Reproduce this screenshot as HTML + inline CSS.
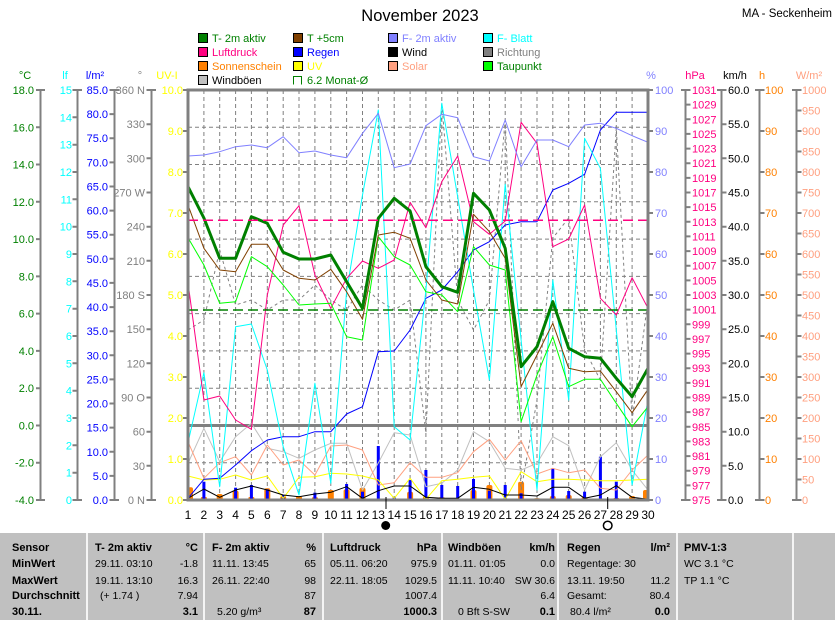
<!DOCTYPE html>
<html><head><meta charset="utf-8"><style>
html,body{margin:0;padding:0;background:#fff;}
svg{display:block;}
text{font-family:"Liberation Sans",Arial,sans-serif;}
</style></head><body>
<svg width="835" height="620" viewBox="0 0 835 620" xmlns="http://www.w3.org/2000/svg">
<rect width="835" height="620" fill="#fff"/>
<defs><clipPath id="pc"><rect x="188" y="90" width="460" height="410"/></clipPath></defs>

<!-- Title -->
<text x="420" y="21" font-size="16.5" text-anchor="middle">November 2023</text>
<text x="832" y="17" font-size="11.5" text-anchor="end">MA - Seckenheim</text>

<!-- Legend -->
<g font-size="11">
<rect x="198.5" y="33.5" width="9" height="9" fill="#008000" stroke="#000"/><text x="212" y="42" fill="#008000">T- 2m aktiv</text>
<rect x="293.5" y="33.5" width="9" height="9" fill="#804000" stroke="#000"/><text x="307" y="42" fill="#008000">T +5cm</text>
<rect x="388.5" y="33.5" width="9" height="9" fill="#8080ff" stroke="#000"/><text x="402" y="42" fill="#8080ff">F- 2m aktiv</text>
<rect x="483.5" y="33.5" width="9" height="9" fill="#00ffff" stroke="#000"/><text x="497" y="42" fill="#00ffff">F- Blatt</text>

<rect x="198.5" y="47.5" width="9" height="9" fill="#ff0080" stroke="#000"/><text x="212" y="56" fill="#ff0080">Luftdruck</text>
<rect x="293.5" y="47.5" width="9" height="9" fill="#0000ff" stroke="#000"/><text x="307" y="56" fill="#0000ff">Regen</text>
<rect x="388.5" y="47.5" width="9" height="9" fill="#000" stroke="#000"/><text x="402" y="56" fill="#000">Wind</text>
<rect x="483.5" y="47.5" width="9" height="9" fill="#808080" stroke="#000"/><text x="497" y="56" fill="#808080">Richtung</text>

<rect x="198.5" y="61.5" width="9" height="9" fill="#ff8000" stroke="#000"/><text x="212" y="70" fill="#ff8000">Sonnenschein</text>
<rect x="293.5" y="61.5" width="9" height="9" fill="#ffff00" stroke="#000"/><text x="307" y="70" fill="#ffff00">UV</text>
<rect x="388.5" y="61.5" width="9" height="9" fill="#ffa080" stroke="#000"/><text x="402" y="70" fill="#ffa080">Solar</text>
<rect x="483.5" y="61.5" width="9" height="9" fill="#00ff00" stroke="#000"/><text x="497" y="70" fill="#008000">Taupunkt</text>

<rect x="198.5" y="75.5" width="9" height="9" fill="#c0c0c0" stroke="#000"/><text x="212" y="84" fill="#000">Windböen</text>
<path d="M293.5,84.5 V76.5 H301.5 V84.5" fill="none" stroke="#008000"/><text x="307" y="84" fill="#008000">6.2 Monat-Ø</text>
</g>

<!-- Axis headers -->
<g font-size="11">
<text x="25" y="79" fill="#008000" text-anchor="middle">°C</text>
<text x="65" y="79" fill="#00ffff" text-anchor="middle">lf</text>
<text x="95" y="79" fill="#0000ff" text-anchor="middle">l/m²</text>
<text x="140" y="79" fill="#808080" text-anchor="middle">°</text>
<text x="167" y="79" fill="#ffff00" text-anchor="middle">UV-I</text>
<text x="651" y="79" fill="#8080ff" text-anchor="middle">%</text>
<text x="695" y="79" fill="#ff0080" text-anchor="middle">hPa</text>
<text x="735" y="79" fill="#000" text-anchor="middle">km/h</text>
<text x="762" y="79" fill="#ff8000" text-anchor="middle">h</text>
<text x="809" y="79" fill="#ffa080" text-anchor="middle">W/m²</text>
</g>

<!-- Left axes lines and ticks -->
<g stroke="#808080" stroke-width="2" fill="none">
<path d="M40.5,90 V500 M36,90 H45 M36,500 H45 M36,127.3H40.5 M36,164.5H40.5 M36,201.8H40.5 M36,239.1H40.5 M36,276.4H40.5 M36,313.6H40.5 M36,350.9H40.5 M36,388.2H40.5 M36,425.5H40.5 M36,462.7H40.5"/>
<path d="M77.5,90 V500 M72.5,90 H82 M72.5,500 H82 M72.5,117.3H77.5 M72.5,144.7H77.5 M72.5,172H77.5 M72.5,199.3H77.5 M72.5,226.7H77.5 M72.5,254H77.5 M72.5,281.3H77.5 M72.5,308.7H77.5 M72.5,336H77.5 M72.5,363.3H77.5 M72.5,390.7H77.5 M72.5,418H77.5 M72.5,445.3H77.5 M72.5,472.7H77.5"/>
<path d="M114.5,90 V500 M109.5,90 H119 M109.5,500 H119 M109.5,114.1H114.5 M109.5,138.2H114.5 M109.5,162.4H114.5 M109.5,186.5H114.5 M109.5,210.6H114.5 M109.5,234.7H114.5 M109.5,258.8H114.5 M109.5,282.9H114.5 M109.5,307.1H114.5 M109.5,331.2H114.5 M109.5,355.3H114.5 M109.5,379.4H114.5 M109.5,403.5H114.5 M109.5,427.6H114.5 M109.5,451.8H114.5 M109.5,475.9H114.5"/>
<path d="M151.5,90 V500 M146.5,90 H156 M146.5,500 H156 M146.5,124.2H151.5 M146.5,158.3H151.5 M146.5,192.5H151.5 M146.5,226.7H151.5 M146.5,260.8H151.5 M146.5,295H151.5 M146.5,329.2H151.5 M146.5,363.3H151.5 M146.5,397.5H151.5 M146.5,431.7H151.5 M146.5,465.8H151.5"/>
<path d="M183,90H188 M183,131H188 M183,172H188 M183,213H188 M183,254H188 M183,295H188 M183,336H188 M183,377H188 M183,418H188 M183,459H188 M183,500H188"/>
<!-- right -->
<path d="M648,90H653 M648,131H653 M648,172H653 M648,213H653 M648,254H653 M648,295H653 M648,336H653 M648,377H653 M648,418H653 M648,459H653 M648,500H653"/>
<path d="M685.5,90 V500 M681,90 H690.5 M681,500 H690.5 M685.5,104.6H690.5 M685.5,119.3H690.5 M685.5,133.9H690.5 M685.5,148.6H690.5 M685.5,163.2H690.5 M685.5,177.9H690.5 M685.5,192.5H690.5 M685.5,207.1H690.5 M685.5,221.8H690.5 M685.5,236.4H690.5 M685.5,251.1H690.5 M685.5,265.7H690.5 M685.5,280.4H690.5 M685.5,295H690.5 M685.5,309.6H690.5 M685.5,324.3H690.5 M685.5,338.9H690.5 M685.5,353.6H690.5 M685.5,368.2H690.5 M685.5,382.9H690.5 M685.5,397.5H690.5 M685.5,412.1H690.5 M685.5,426.8H690.5 M685.5,441.4H690.5 M685.5,456.1H690.5 M685.5,470.7H690.5 M685.5,485.4H690.5"/>
<path d="M721.5,90 V500 M717,90 H726.5 M717,500 H726.5 M721.5,124.2H726.5 M721.5,158.3H726.5 M721.5,192.5H726.5 M721.5,226.7H726.5 M721.5,260.8H726.5 M721.5,295H726.5 M721.5,329.2H726.5 M721.5,363.3H726.5 M721.5,397.5H726.5 M721.5,431.7H726.5 M721.5,465.8H726.5"/>
<path d="M759.5,90 V500 M755,90 H764.5 M755,500 H764.5 M759.5,131H764.5 M759.5,172H764.5 M759.5,213H764.5 M759.5,254H764.5 M759.5,295H764.5 M759.5,336H764.5 M759.5,377H764.5 M759.5,418H764.5 M759.5,459H764.5"/>
<path d="M796.5,90 V500 M792,90 H801.5 M792,500 H801.5 M796.5,110.5H801.5 M796.5,131H801.5 M796.5,151.5H801.5 M796.5,172H801.5 M796.5,192.5H801.5 M796.5,213H801.5 M796.5,233.5H801.5 M796.5,254H801.5 M796.5,274.5H801.5 M796.5,295H801.5 M796.5,315.5H801.5 M796.5,336H801.5 M796.5,356.5H801.5 M796.5,377H801.5 M796.5,397.5H801.5 M796.5,418H801.5 M796.5,438.5H801.5 M796.5,459H801.5 M796.5,479.5H801.5"/>
</g>

<!-- Left tick labels -->
<g font-size="11" text-anchor="end" fill="#008000">
<text x="34" y="94">18.0</text><text x="34" y="131.3">16.0</text><text x="34" y="168.5">14.0</text><text x="34" y="205.8">12.0</text><text x="34" y="243.1">10.0</text><text x="34" y="280.4">8.0</text><text x="34" y="317.6">6.0</text><text x="34" y="354.9">4.0</text><text x="34" y="392.2">2.0</text><text x="34" y="429.5">0.0</text><text x="34" y="466.7">-2.0</text><text x="34" y="504">-4.0</text>
</g>
<g font-size="11" text-anchor="end" fill="#00ffff">
<text x="72" y="94">15</text><text x="72" y="121.3">14</text><text x="72" y="148.7">13</text><text x="72" y="176">12</text><text x="72" y="203.3">11</text><text x="72" y="230.7">10</text><text x="72" y="258">9</text><text x="72" y="285.3">8</text><text x="72" y="312.7">7</text><text x="72" y="340">6</text><text x="72" y="367.3">5</text><text x="72" y="394.7">4</text><text x="72" y="422">3</text><text x="72" y="449.3">2</text><text x="72" y="476.7">1</text><text x="72" y="504">0</text>
</g>
<g font-size="11" text-anchor="end" fill="#0000ff">
<text x="108" y="94">85.0</text><text x="108" y="118.1">80.0</text><text x="108" y="142.2">75.0</text><text x="108" y="166.4">70.0</text><text x="108" y="190.5">65.0</text><text x="108" y="214.6">60.0</text><text x="108" y="238.7">55.0</text><text x="108" y="262.8">50.0</text><text x="108" y="286.9">45.0</text><text x="108" y="311.1">40.0</text><text x="108" y="335.2">35.0</text><text x="108" y="359.3">30.0</text><text x="108" y="383.4">25.0</text><text x="108" y="407.5">20.0</text><text x="108" y="431.6">15.0</text><text x="108" y="455.8">10.0</text><text x="108" y="479.9">5.0</text><text x="108" y="504">0.0</text>
</g>
<g font-size="11" text-anchor="end" fill="#808080" xml:space="preserve">
<text x="145" y="94">360 N</text><text x="145" y="128.2">330</text><text x="145" y="162.3">300</text><text x="145" y="196.5">270 W</text><text x="145" y="230.7">240</text><text x="145" y="264.8">210</text><text x="145" y="299">180 S</text><text x="145" y="333.2">150</text><text x="145" y="367.3">120</text><text x="145" y="401.5">90   O</text><text x="145" y="435.7">60</text><text x="145" y="469.8">30</text><text x="145" y="504">0     N</text>
</g>
<g font-size="11" text-anchor="end" fill="#ffff00">
<text x="183" y="94">10.0</text><text x="183" y="135">9.0</text><text x="183" y="176">8.0</text><text x="183" y="217">7.0</text><text x="183" y="258">6.0</text><text x="183" y="299">5.0</text><text x="183" y="340">4.0</text><text x="183" y="381">3.0</text><text x="183" y="422">2.0</text><text x="183" y="463">1.0</text><text x="183" y="504">0.0</text>
</g>

<!-- Right tick labels -->
<g font-size="11" fill="#8080ff">
<text x="655" y="94">100</text><text x="655" y="135">90</text><text x="655" y="176">80</text><text x="655" y="217">70</text><text x="655" y="258">60</text><text x="655" y="299">50</text><text x="655" y="340">40</text><text x="655" y="381">30</text><text x="655" y="422">20</text><text x="655" y="463">10</text><text x="655" y="504">0</text>
</g>
<g font-size="11" fill="#ff0080">
<text x="692" y="94">1031</text><text x="692" y="108.6">1029</text><text x="692" y="123.3">1027</text><text x="692" y="137.9">1025</text><text x="692" y="152.6">1023</text><text x="692" y="167.2">1021</text><text x="692" y="181.9">1019</text><text x="692" y="196.5">1017</text><text x="692" y="211.1">1015</text><text x="692" y="225.8">1013</text><text x="692" y="240.4">1011</text><text x="692" y="255.1">1009</text><text x="692" y="269.7">1007</text><text x="692" y="284.4">1005</text><text x="692" y="299">1003</text><text x="692" y="313.6">1001</text><text x="692" y="328.3">999</text><text x="692" y="342.9">997</text><text x="692" y="357.6">995</text><text x="692" y="372.2">993</text><text x="692" y="386.9">991</text><text x="692" y="401.5">989</text><text x="692" y="416.1">987</text><text x="692" y="430.8">985</text><text x="692" y="445.4">983</text><text x="692" y="460.1">981</text><text x="692" y="474.7">979</text><text x="692" y="489.4">977</text><text x="692" y="504">975</text>
</g>
<g font-size="11" fill="#000">
<text x="728" y="94">60.0</text><text x="728" y="128.2">55.0</text><text x="728" y="162.3">50.0</text><text x="728" y="196.5">45.0</text><text x="728" y="230.7">40.0</text><text x="728" y="264.8">35.0</text><text x="728" y="299">30.0</text><text x="728" y="333.2">25.0</text><text x="728" y="367.3">20.0</text><text x="728" y="401.5">15.0</text><text x="728" y="435.7">10.0</text><text x="728" y="469.8">5.0</text><text x="728" y="504">0.0</text>
</g>
<g font-size="11" fill="#ff8000">
<text x="765" y="94">100</text><text x="765" y="135">90</text><text x="765" y="176">80</text><text x="765" y="217">70</text><text x="765" y="258">60</text><text x="765" y="299">50</text><text x="765" y="340">40</text><text x="765" y="381">30</text><text x="765" y="422">20</text><text x="765" y="463">10</text><text x="765" y="504">0</text>
</g>
<g font-size="11" fill="#ffa080">
<text x="802" y="94">1000</text><text x="802" y="114.5">950</text><text x="802" y="135">900</text><text x="802" y="155.5">850</text><text x="802" y="176">800</text><text x="802" y="196.5">750</text><text x="802" y="217">700</text><text x="802" y="237.5">650</text><text x="802" y="258">600</text><text x="802" y="278.5">550</text><text x="802" y="299">500</text><text x="802" y="319.5">450</text><text x="802" y="340">400</text><text x="802" y="360.5">350</text><text x="802" y="381">300</text><text x="802" y="401.5">250</text><text x="802" y="422">200</text><text x="802" y="442.5">150</text><text x="802" y="463">100</text><text x="802" y="483.5">50</text><text x="802" y="504">0</text>
</g>

<!-- Grid -->
<g stroke="#808080" stroke-width="1" stroke-dasharray="4 3" fill="none">
<path d="M188,127.3H648 M188,164.5H648 M188,201.8H648 M188,239.1H648 M188,276.4H648 M188,313.6H648 M188,350.9H648 M188,388.2H648 M188,462.7H648"/>
<path d="M203.9,90V500 M219.7,90V500 M235.6,90V500 M251.4,90V500 M267.3,90V500 M283.2,90V500 M299,90V500 M314.9,90V500 M330.8,90V500 M346.6,90V500 M362.5,90V500 M378.3,90V500 M394.2,90V500 M410.1,90V500 M425.9,90V500 M441.8,90V500 M457.7,90V500 M473.5,90V500 M489.4,90V500 M505.2,90V500 M521.1,90V500 M537,90V500 M552.8,90V500 M568.7,90V500 M584.6,90V500 M600.4,90V500 M616.3,90V500 M632.1,90V500"/>
</g>
<path d="M188,425.5H648" stroke="#808080" stroke-width="3"/>

<g clip-path="url(#pc)">
<!-- Sunshine bars -->
<g fill="#ff8000">
<rect x="188" y="487.3" width="5" height="12.7" rx="2"/>
<rect x="200.9" y="497" width="6" height="3" rx="1"/>
<rect x="216.7" y="494" width="6" height="6" rx="2"/>
<rect x="232.6" y="490.7" width="6" height="9.3" rx="2"/>
<rect x="248.4" y="497" width="6" height="3" rx="1"/>
<rect x="264.3" y="488.3" width="6" height="11.7" rx="2"/>
<rect x="280.2" y="496" width="6" height="4" rx="2"/>
<rect x="296" y="496" width="6" height="4" rx="2"/>
<rect x="311.9" y="497.3" width="6" height="2.7" rx="1"/>
<rect x="327.8" y="490" width="6" height="10" rx="2"/>
<rect x="343.6" y="489.3" width="6" height="10.7" rx="2"/>
<rect x="359.5" y="487.7" width="6" height="12.3" rx="2"/>
<rect x="407.1" y="491.7" width="6" height="8.3" rx="2"/>
<rect x="422.9" y="496.7" width="6" height="3.3" rx="1"/>
<rect x="438.8" y="497.3" width="6" height="2.7" rx="1"/>
<rect x="470.5" y="490" width="6" height="10" rx="2"/>
<rect x="486.4" y="485" width="6" height="15" rx="2"/>
<rect x="518.1" y="481.7" width="6" height="18.3" rx="2"/>
<rect x="534" y="498.3" width="6" height="1.7" rx="1"/>
<rect x="549.8" y="496" width="6" height="4" rx="2"/>
<rect x="565.7" y="495" width="6" height="5" rx="2"/>
<rect x="581.6" y="497.3" width="6" height="2.7" rx="1"/>
<rect x="613.3" y="498" width="6" height="2" rx="1"/>
<rect x="629.1" y="496" width="6" height="4" rx="2"/>
<rect x="643" y="490" width="5" height="10" rx="2"/>
</g>
<!-- Rain bars -->
<g fill="#0000ff">
<rect x="202.4" y="481.7" width="3" height="18.3"/>
<rect x="234.1" y="487.7" width="3" height="12.3"/>
<rect x="249.9" y="485" width="3" height="15"/>
<rect x="265.8" y="489.3" width="3" height="10.7"/>
<rect x="281.7" y="495" width="3" height="5"/>
<rect x="313.4" y="492.7" width="3" height="7.3"/>
<rect x="345.1" y="484" width="3" height="16"/>
<rect x="361" y="491.7" width="3" height="8.3"/>
<rect x="376.8" y="446" width="3" height="54"/>
<rect x="392.7" y="497" width="3" height="3"/>
<rect x="408.6" y="480" width="3" height="20"/>
<rect x="424.4" y="470" width="3" height="30"/>
<rect x="440.3" y="485" width="3" height="15"/>
<rect x="456.2" y="486" width="3" height="14"/>
<rect x="472" y="479" width="3" height="21"/>
<rect x="487.9" y="490.7" width="3" height="9.3"/>
<rect x="503.7" y="485" width="3" height="15"/>
<rect x="519.6" y="493.3" width="3" height="6.7"/>
<rect x="551.3" y="468.3" width="3" height="31.7"/>
<rect x="567.2" y="491" width="3" height="9"/>
<rect x="583.1" y="491.7" width="3" height="8.3"/>
<rect x="598.9" y="456.7" width="3" height="43.3"/>
<rect x="614.8" y="481.7" width="3" height="18.3"/>
</g>

<g fill="none" stroke-linejoin="round">
<!-- Richtung -->
<polyline stroke="#808080" stroke-width="1" stroke-dasharray="3 3" points="188,330 203.9,320 219.7,250 235.6,305 251.4,300 267.3,310 283.2,300 299,300 314.9,285 330.8,300 346.6,310 362.5,285 378.3,300 394.2,310 410.1,300 425.9,433 441.8,103 457.7,300 473.5,330 489.4,300 505.2,120 521.1,490 537,400 552.8,238 568.7,218 584.6,350 600.4,380 616.3,128 632.1,420 648,300"/>
<!-- Windböen -->
<polyline stroke="#c0c0c0" stroke-width="1" points="188,463.3 203.9,428.3 219.7,461.7 235.6,436.7 251.4,423.3 267.3,448.3 283.2,451.7 299,458.3 314.9,450 330.8,443.3 346.6,443.3 362.5,490 378.3,463 394.2,432.7 410.1,435 425.9,486.7 441.8,483.3 457.7,470 473.5,431.7 489.4,441.7 505.2,468.3 521.1,470 537,463.3 552.8,436.7 568.7,445.7 584.6,490 600.4,456.7 616.3,442.7 632.1,470 648,490"/>
<!-- Solar -->
<polyline stroke="#ffa080" stroke-width="1" points="188,441.7 203.9,478.3 219.7,462.7 235.6,456.7 251.4,475 267.3,445 283.2,465 299,460 314.9,475 330.8,446 346.6,445 362.5,450 378.3,485 394.2,482.7 410.1,462.7 425.9,477.3 441.8,477.3 457.7,472.7 473.5,451.7 489.4,439.3 505.2,460 521.1,440.7 537,474 552.8,468.3 568.7,472.7 584.6,470 600.4,488.3 616.3,490 632.1,470 648,455"/>
<!-- UV -->
<polyline stroke="#ffff00" stroke-width="1" points="188,476 203.9,480 219.7,479.3 235.6,475 251.4,480 267.3,476 283.2,498.3 299,477.3 314.9,476.7 330.8,473.3 346.6,474 362.5,476 378.3,480 394.2,498.3 410.1,478.3 425.9,499.3 441.8,480.7 457.7,479.3 473.5,477.3 489.4,476 505.2,499.3 521.1,471.7 537,481.7 552.8,479.3 568.7,479.3 584.6,480 600.4,480.7 616.3,480.7 632.1,480 648,479.3"/>
<!-- Wind -->
<polyline stroke="#000" stroke-width="1" points="188,498.3 203.9,489 219.7,497.3 235.6,490 251.4,486 267.3,490 283.2,495 299,496.7 314.9,494 330.8,492.3 346.6,486.7 362.5,498.3 378.3,490.7 394.2,486 410.1,486 425.9,497.3 441.8,498.3 457.7,498.3 473.5,487.3 489.4,489.3 505.2,495 521.1,495 537,496 552.8,487.3 568.7,487.3 584.6,498.3 600.4,495 616.3,485.7 632.1,497.3 648,499.3"/>
<!-- Rain cumulative -->
<polyline stroke="#0000ff" stroke-width="1" points="188,498.3 203.9,479.3 219.7,478.3 235.6,465 251.4,450.7 267.3,440 283.2,436.7 299,436.7 314.9,431.7 330.8,431.7 346.6,414 362.5,406.7 378.3,351.7 394.2,351 410.1,330 425.9,298.3 441.8,290 457.7,271.7 473.5,250 489.4,241.7 505.2,225 521.1,221.7 537,221.7 552.8,190 568.7,183.3 584.6,174.3 600.4,130 616.3,112.3 632.1,112.3 648,112.3"/>
<!-- F-Blatt -->
<polyline stroke="#00ffff" stroke-width="1" points="188,442.7 203.9,372.7 219.7,486.7 235.6,326.7 251.4,324 267.3,370 283.2,446.7 299,495 314.9,383.3 330.8,483.3 346.6,291.7 362.5,195 378.3,110 394.2,426.7 410.1,440 425.9,290 441.8,103.3 457.7,197 473.5,290 489.4,380 505.2,184.3 521.1,340 537,490 552.8,280 568.7,400 584.6,138.3 600.4,168.3 616.3,330 632.1,485 648,400"/>
<!-- Luftdruck -->
<polyline stroke="#ff0080" stroke-width="1" points="188,283 203.9,400 219.7,396 235.6,420 251.4,429.3 267.3,295 283.2,225 299,205.7 314.9,275 330.8,308.3 346.6,278.3 362.5,261 378.3,268.3 394.2,260 410.1,202.3 425.9,227.7 441.8,181.7 457.7,156 473.5,221.7 489.4,234.3 505.2,221 521.1,122.3 537,143.3 552.8,246.7 568.7,239 584.6,205 600.4,298.3 616.3,315 632.1,277.7 648,308.3"/>
<!-- F-2m -->
<polyline stroke="#8080ff" stroke-width="1" points="188,156 203.9,155 219.7,151.7 235.6,146.7 251.4,145 267.3,147.7 283.2,136.7 299,152.7 314.9,151 330.8,155 346.6,157.7 362.5,133.3 378.3,113.3 394.2,167.7 410.1,164 425.9,125.7 441.8,114.3 457.7,117.7 473.5,156.7 489.4,161 505.2,120 521.1,166.7 537,140 552.8,140 568.7,146.7 584.6,125 600.4,123.3 616.3,128.3 632.1,135.7 648,142.3"/>
<!-- Taupunkt -->
<polyline stroke="#00ff00" stroke-width="1" points="188,237.7 203.9,265 219.7,303.3 235.6,301.7 251.4,256.7 267.3,266.7 283.2,285 299,305 314.9,304 330.8,303.3 346.6,336.7 362.5,340 378.3,236.7 394.2,256.7 410.1,265 425.9,291.7 441.8,295 457.7,311.7 473.5,246.7 489.4,265 505.2,270 521.1,421.7 537,375 552.8,336.7 568.7,386.7 584.6,379.3 600.4,379.3 616.3,403.3 632.1,426.7 648,406.7"/>
<!-- T +5cm -->
<polyline stroke="#804000" stroke-width="1" points="188,205 203.9,248.3 219.7,270 235.6,271.7 251.4,244.3 267.3,244.3 283.2,270 299,278.3 314.9,280 330.8,269.3 346.6,291.7 362.5,319.3 378.3,235 394.2,232.3 410.1,238.3 425.9,280 441.8,300 457.7,304 473.5,214.3 489.4,231.7 505.2,258.3 521.1,386.7 537,355 552.8,323.3 568.7,368.3 584.6,371.7 600.4,371 616.3,391.7 632.1,412.7 648,389.3"/>
<!-- T 2m -->
<polyline stroke="#008000" stroke-width="3" points="188,186.7 203.9,218 219.7,258.3 235.6,258.3 251.4,216.7 267.3,223.3 283.2,252.3 299,259 314.9,259 330.8,255 346.6,281.7 362.5,308.3 378.3,218.3 394.2,198.3 410.1,211 425.9,266.7 441.8,286.7 457.7,292.3 473.5,193.3 489.4,210 505.2,248.3 521.1,366.7 537,346.7 552.8,301.7 568.7,348.3 584.6,356.7 600.4,358.3 616.3,378.3 632.1,396.7 648,368.3"/>
</g>
<!-- mean lines -->
<path d="M188,220.3H648" stroke="#ff0080" stroke-width="1.5" stroke-dasharray="10 5"/>
<path d="M188,310H648" stroke="#008000" stroke-width="1.5" stroke-dasharray="10 5"/>
</g>

<!-- Plot border -->
<rect x="188" y="90" width="460" height="410" fill="none" stroke="#808080" stroke-width="3"/>

<!-- Day labels -->
<g font-size="12" text-anchor="middle" fill="#000">
<text x="188" y="519">1</text><text x="203.9" y="519">2</text><text x="219.7" y="519">3</text><text x="235.6" y="519">4</text><text x="251.4" y="519">5</text><text x="267.3" y="519">6</text><text x="283.2" y="519">7</text><text x="299" y="519">8</text><text x="314.9" y="519">9</text><text x="330.8" y="519">10</text><text x="346.6" y="519">11</text><text x="362.5" y="519">12</text><text x="378.3" y="519">13</text><text x="394.2" y="519">14</text><text x="410.1" y="519">15</text><text x="425.9" y="519">16</text><text x="441.8" y="519">17</text><text x="457.7" y="519">18</text><text x="473.5" y="519">19</text><text x="489.4" y="519">20</text><text x="505.2" y="519">21</text><text x="521.1" y="519">22</text><text x="537" y="519">23</text><text x="552.8" y="519">24</text><text x="568.7" y="519">25</text><text x="584.6" y="519">26</text><text x="600.4" y="519">27</text><text x="616.3" y="519">28</text><text x="632.1" y="519">29</text><text x="648" y="519">30</text>
</g>
<!-- Moon -->
<path d="M386,497V509 M607.7,497V509" stroke="#000" stroke-width="1"/>
<circle cx="385.7" cy="525.5" r="4.5" fill="#000"/>
<circle cx="607.7" cy="525.5" r="4.3" fill="#fff" stroke="#000" stroke-width="1.5"/>

<!-- Table -->
<rect x="0" y="533" width="835" height="87" fill="#c0c0c0"/>
<g fill="#f4f4f4">
<rect x="86" y="533" width="2" height="87"/><rect x="203" y="533" width="2" height="87"/><rect x="322" y="533" width="2" height="87"/><rect x="441" y="533" width="2" height="87"/><rect x="557" y="533" width="2" height="87"/><rect x="676" y="533" width="2" height="87"/><rect x="792" y="533" width="2" height="87"/>
</g>
<g font-size="11" font-weight="bold" fill="#000">
<text x="12" y="551">Sensor</text><text x="12" y="567">MinWert</text><text x="12" y="584">MaxWert</text><text x="12" y="599">Durchschnitt</text><text x="12" y="615">30.11.</text>
<text x="95" y="551">T- 2m aktiv</text><text x="198" y="551" text-anchor="end">°C</text>
<text x="212" y="551">F- 2m aktiv</text><text x="316" y="551" text-anchor="end">%</text>
<text x="330" y="551">Luftdruck</text><text x="437" y="551" text-anchor="end">hPa</text>
<text x="448" y="551">Windböen</text><text x="555" y="551" text-anchor="end">km/h</text>
<text x="567" y="551">Regen</text><text x="670" y="551" text-anchor="end">l/m²</text>
<text x="684" y="551">PMV-1:3</text>
<text x="198" y="615" text-anchor="end">3.1</text>
<text x="316" y="615" text-anchor="end">87</text>
<text x="437" y="615" text-anchor="end">1000.3</text>
<text x="555" y="615" text-anchor="end">0.1</text>
<text x="670" y="615" text-anchor="end">0.0</text>
</g>
<g font-size="10.5" fill="#000" xml:space="preserve">
<text x="95" y="567">29.11.  03:10</text><text x="198" y="567" text-anchor="end">-1.8</text>
<text x="95" y="584">19.11.  13:10</text><text x="198" y="584" text-anchor="end">16.3</text>
<text x="100" y="599">(+ 1.74 )</text><text x="198" y="599" text-anchor="end">7.94</text>
<text x="212" y="567">11.11.  13:45</text><text x="316" y="567" text-anchor="end">65</text>
<text x="212" y="584">26.11.  22:40</text><text x="316" y="584" text-anchor="end">98</text>
<text x="316" y="599" text-anchor="end">87</text>
<text x="217" y="615">5.20 g/m³</text>
<text x="330" y="567">05.11.  06:20</text><text x="437" y="567" text-anchor="end">975.9</text>
<text x="330" y="584">22.11.  18:05</text><text x="437" y="584" text-anchor="end">1029.5</text>
<text x="437" y="599" text-anchor="end">1007.4</text>
<text x="448" y="567">01.11.  01:05</text><text x="555" y="567" text-anchor="end">0.0</text>
<text x="448" y="584">11.11.  10:40</text><text x="555" y="584" text-anchor="end">SW 30.6</text>
<text x="555" y="599" text-anchor="end">6.4</text>
<text x="458" y="615">0 Bft S-SW</text>
<text x="567" y="567">Regentage: 30</text>
<text x="567" y="584">13.11.  19:50</text><text x="670" y="584" text-anchor="end">11.2</text>
<text x="567" y="599">Gesamt:</text><text x="670" y="599" text-anchor="end">80.4</text>
<text x="570" y="615">80.4 l/m²</text>
<text x="684" y="567">WC 3.1 °C</text>
<text x="684" y="584">TP 1.1 °C</text>
</g>
</svg>
</body></html>
